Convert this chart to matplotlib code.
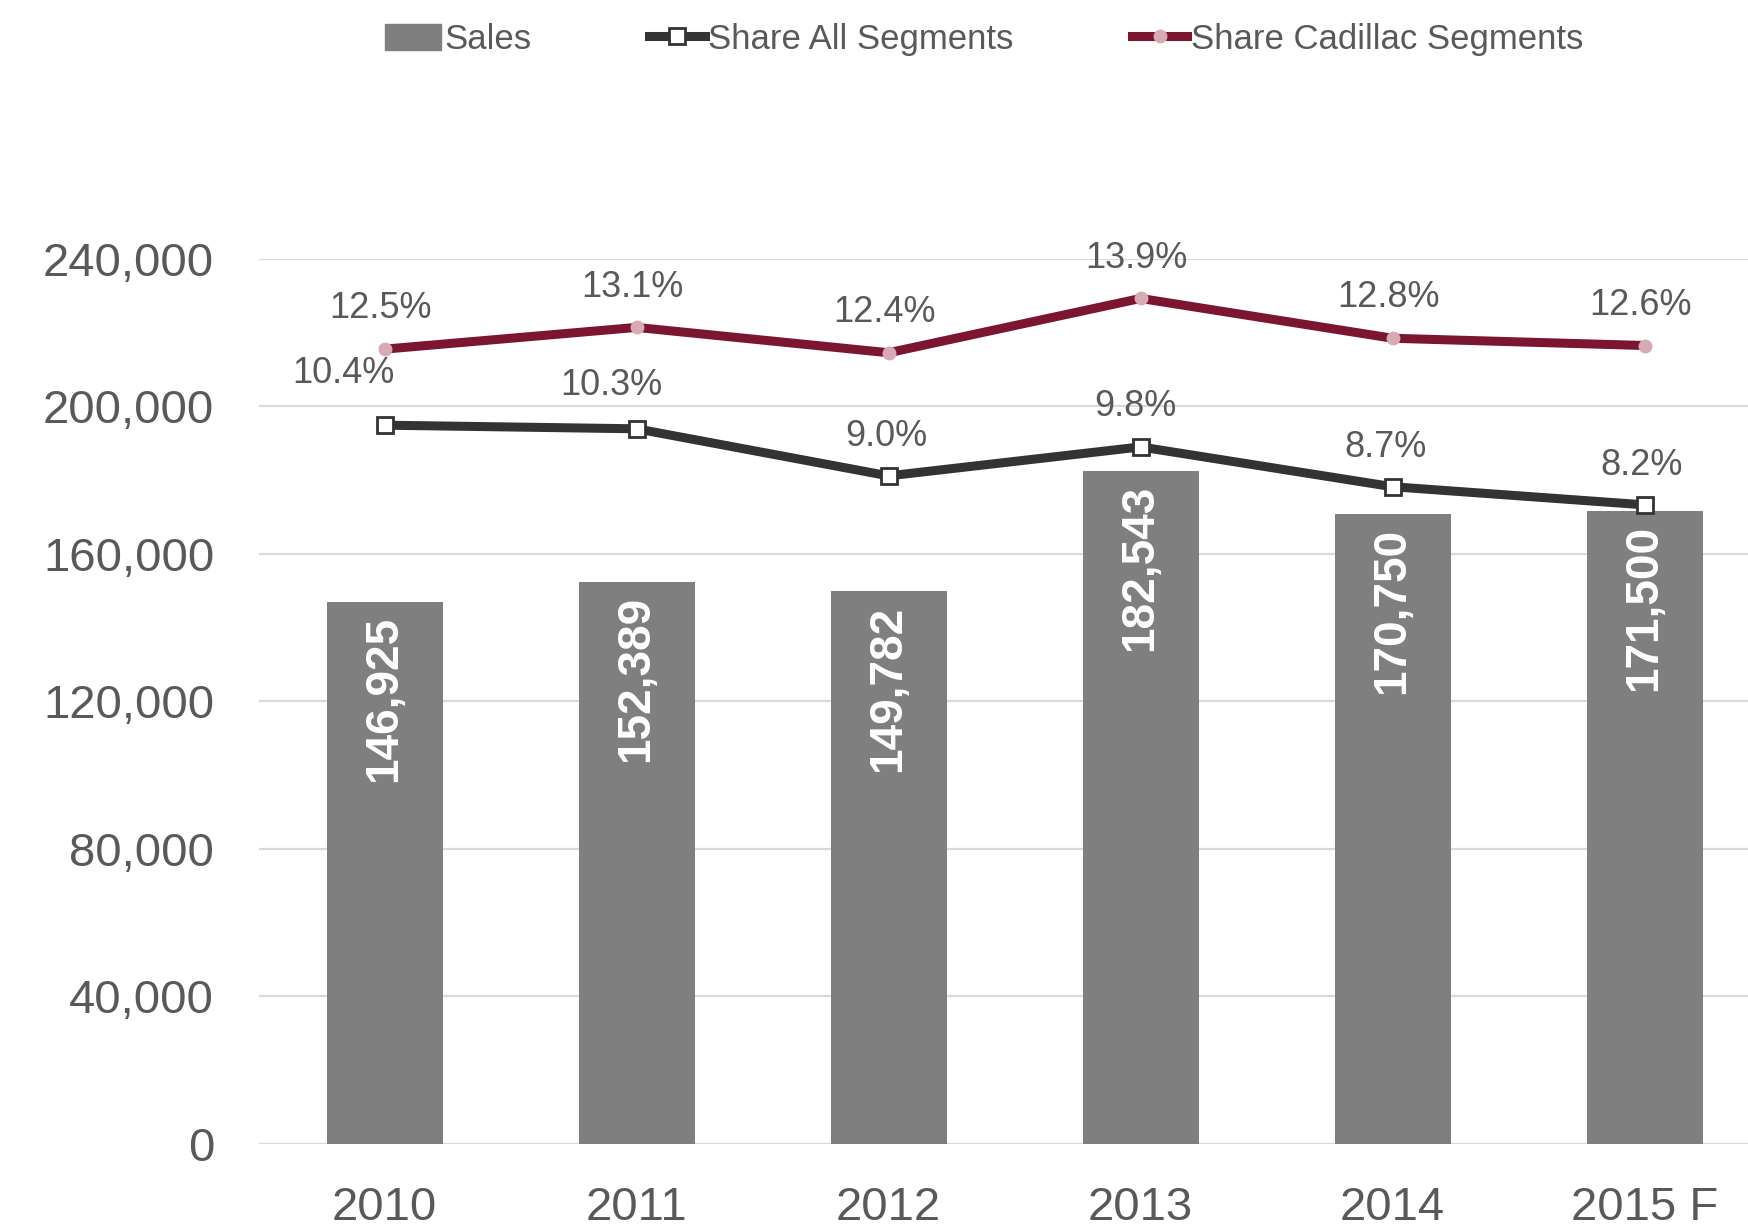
import matplotlib
matplotlib.use('Agg')
from matplotlib import pyplot
from matplotlib.lines import Line2D
from matplotlib.patches import Patch

years = ['2010', '2011', '2012', '2013', '2014', '2015 F']
sales = [146925, 152389, 149782, 182543, 170750, 171500]
share_all = [10.4, 10.3, 9.0, 9.8, 8.7, 8.2]
share_cadillac = [12.5, 13.1, 12.4, 13.9, 12.8, 12.6]
y_ticks = [0, 40000, 80000, 120000, 160000, 200000, 240000]

FONT = ['Liberation Sans', 'DejaVu Sans']
BAR_COLOR = '#7f7f7f'
ALL_COLOR = '#333333'
CAD_COLOR = '#7b1530'
TEXT_COLOR = '#595959'

pyplot.rcParams['font.family'] = FONT

fig = pyplot.figure(figsize=(17.48, 12.30), dpi=100)
W, H = 1748, 1230
ax = fig.add_axes([258.6 / W, 86 / H, 1512 / W, 885.4 / H])

x = list(range(len(years)))
ax.bar(x, sales, width=0.46, color=BAR_COLOR, zorder=3)

# bar value labels, rotated inside the top of each bar
for i, v in zip(x, sales):
    ax.annotate(f'{v:,}', (i, v), xytext=(0, -10), textcoords='offset points',
                rotation=90, ha='center', va='top', color='white',
                fontsize=33, fontweight='bold', zorder=5)

ax.set_xlim(-0.5, 5.5)
ax.set_ylim(0, 240000)
ax.set_yticks(y_ticks)
ax.set_yticklabels([f'{t:,}' for t in y_ticks])
ax.set_xticks(x)
ax.set_xticklabels(years)
ax.tick_params(axis='y', length=0, pad=32, labelsize=34, labelcolor=TEXT_COLOR)
ax.tick_params(axis='x', length=0, pad=30, labelsize=34, labelcolor=TEXT_COLOR)
ax.grid(axis='y', color='#d9d9d9', linewidth=1.6, zorder=0)
ax.set_axisbelow(True)
for s in ax.spines.values():
    s.set_visible(False)

# share lines on a hidden secondary axis
ax2 = ax.twinx()
ax2.set_ylim(-9.45, 15.0)
ax2.set_axis_off()
ax2.plot(x, share_cadillac, color=CAD_COLOR, linewidth=6.5, marker='o', markersize=9,
         markerfacecolor='#d8a9b6', markeredgecolor='#d8a9b6', zorder=4)
ax2.plot(x, share_all, color=ALL_COLOR, linewidth=6.5, marker='s', markersize=12,
         markerfacecolor='white', markeredgecolor=ALL_COLOR, markeredgewidth=2, zorder=4)

for i, v in zip(x, share_cadillac):
    ax2.annotate(f'{v:.1f}%', (i, v), xytext=(-3, 29), textcoords='offset points',
                 ha='center', va='center', fontsize=26, color=TEXT_COLOR)

all_dx = [-30, -18, -2, -4, -5, -2]
all_dy = [37, 31, 28, 29, 28, 28]
for i, v, dx, dy in zip(x, share_all, all_dx, all_dy):
    ax2.annotate(f'{v:.1f}%', (i, v), xytext=(dx, dy), textcoords='offset points',
                 ha='center', va='center', fontsize=26, color=TEXT_COLOR)

handles = [
    Patch(facecolor=BAR_COLOR, edgecolor=BAR_COLOR),
    Line2D([0], [0], color=ALL_COLOR, linewidth=6.5, marker='s', markersize=12,
           markerfacecolor='white', markeredgecolor=ALL_COLOR, markeredgewidth=2),
    Line2D([0], [0], color=CAD_COLOR, linewidth=6.5, marker='o', markersize=9,
           markerfacecolor='#d8a9b6', markeredgecolor='#d8a9b6'),
]
fig.legend(handles, ['Sales', 'Share All Segments', 'Share Cadillac Segments'],
           loc='center', bbox_to_anchor=(0.563, 0.968), ncol=3, frameon=False,
           fontsize=25, labelcolor=TEXT_COLOR, handlelength=1.6, handletextpad=0.1,
           columnspacing=3.4, handleheight=0.8)

fig.savefig('out.png', dpi=100)
